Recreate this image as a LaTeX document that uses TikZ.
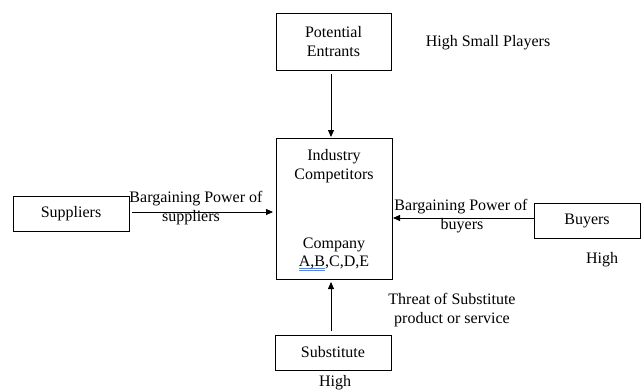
\documentclass[tikz,border=0pt]{standalone}
\usepackage{fontspec}
\setmainfont{Liberation Serif}
\usetikzlibrary{arrows.meta}
\definecolor{ulblue}{RGB}{90,130,220}
\newcommand\blueul[1]{\setbox0\hbox{#1}\rlap{\color{ulblue}\rule[-2.4pt]{\wd0}{0.6pt}}\rlap{\color{ulblue}\rule[-4.0pt]{\wd0}{0.6pt}}\box0}
\begin{document}
\begin{tikzpicture}[x=1pt,y=-1pt,
  every node/.style={font=\fontsize{16}{18.5}\selectfont, inner sep=0pt, align=center},
  box/.style={draw, line width=0.8pt},
  conn/.style={line width=0.8pt, -{Triangle[length=7pt,width=6pt]}}]
\useasboundingbox (0,0) rectangle (641,391);
% boxes
\node[box, minimum width=115pt, minimum height=57pt] (pe) at (333.5,41.5) {};
\node (pet) at (333.5,41.5) {Potential\\Entrants};
\node[box, minimum width=116pt, minimum height=141pt] (ic) at (334,208.5) {};
\node (ict) at (334,166) {Industry\\Competitors};
\node (ict2) at (334,254) {Company\\\blueul{A,B},C,D,E};
\node[box, minimum width=116pt, minimum height=35pt] (sup) at (71,213.5) {Suppliers};
\node[box, minimum width=106pt, minimum height=35pt] (buy) at (587,220.5) {};
\node (buyt) at (587,221) {Buyers};
\node[box, minimum width=116pt, minimum height=35pt] (sub) at (333,352.5) {Substitute};
% labels
\node (hsp) at (488,43) {High Small Players};
\node (sl1) at (196,199) {Bargaining Power of};
\node (sl2) at (191,218) {suppliers};
\node (bl1) at (461,207) {Bargaining Power of};
\node (bl2) at (462,226) {buyers};
\node (hb) at (602,260) {High};
\node (th) at (452,310) {Threat of Substitute\\product or service};
\node (hs) at (335,383) {High};
% connectors
\coordinate (pea) at (331,70);
\coordinate (peb) at (331,138);
\draw[conn, shorten <=4pt, shorten >=1pt] (pea) -- (peb);
\coordinate (sa) at (129,212);
\coordinate (sb) at (276,212);
\draw[conn, shorten <=3pt, shorten >=3pt] (sa) -- (sb);
\coordinate (ba) at (534,218);
\coordinate (bb) at (392,218);
\draw[conn, shorten >=1pt] (ba) -- (bb);
\coordinate (ua) at (331,335);
\coordinate (ub) at (331,279);
\draw[conn, shorten <=4pt, shorten >=3pt] (ua) -- (ub);
\end{tikzpicture}
\end{document}
